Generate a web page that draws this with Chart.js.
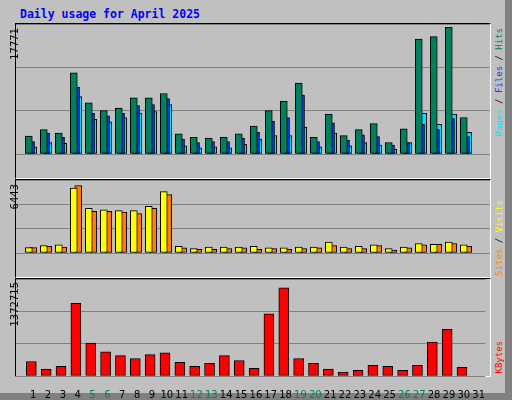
<!DOCTYPE html>
<html>
<head>
<meta charset="utf-8">
<script src="https://cdn.jsdelivr.net/npm/chart.js@4"></script>
<style>
  body { margin: 0; }
  #page { position: relative; width: 505px; height: 393px; background: #c0c0c0;
          border-right: 7px solid #808080; border-bottom: 7px solid #808080; font-family: "DejaVu Sans", sans-serif; }
  .frame { position: absolute; left: 15px; width: 474px; box-sizing: content-box;
           border-top: 1px solid #000; border-left: 1px solid #000; border-right: 1px solid #fff; border-bottom: 1px solid #fff; }
  .cv { position: absolute; left: 16px; }
  .vt { position: absolute; writing-mode: vertical-rl; transform: rotate(180deg); white-space: nowrap; }
  .mono { font-family: "DejaVu Sans Mono", monospace; font-size: 9px; }
  #title { position: absolute; left: 20px; top: 7px; color: #0000ff; font: bold 11.5px "DejaVu Sans Mono", monospace; }
</style>
</head>
<body>
<div id="page">
  <div id="title">Daily usage for April 2025</div>
  <div class="frame" style="top:23px;height:154px"></div>
  <div class="frame" style="top:179px;height:97px"></div>
  <div class="frame" style="top:278px;height:97px"></div>
  <div class="cv" style="top:24px"><canvas id="c1" width="474" height="154"></canvas></div>
  <div class="cv" style="top:180px"><canvas id="c2" width="474" height="97"></canvas></div>
  <div class="cv" style="top:279px"><canvas id="c3" width="474" height="121"></canvas></div>
  <div class="vt" style="left:9px;top:28px;font-size:10px">17771</div>
  <div class="vt" style="left:9px;top:184px;font-size:10px">6443</div>
  <div class="vt" style="left:9px;top:282px;font-size:10px">1372715</div>
  <div class="vt mono" style="left:494px;top:28px"><span style="color:#00e0ff">Pages</span> / <span style="color:#0040ff">Files</span> / <span style="color:#00805c">Hits</span></div>
  <div class="vt mono" style="left:494px;top:200px"><span style="color:#ff8000">Sites</span> / <span style="color:#ffff00">Visits</span></div>
  <div class="vt mono" style="left:494px;top:341px;color:#ff0000">KBytes</div>
</div>
<script>
const days = [1,2,3,4,5,6,7,8,9,10,11,12,13,14,15,16,17,18,19,20,21,22,23,24,25,26,27,28,29,30,31];
const weekends = [5,6,12,13,19,20,26,27];
const hits = [2500,3430,2940,11400,7170,6080,6450,7900,7900,8500,2820,2340,2220,2340,2820,3910,6080,7410,9950,2340,5600,2580,3430,4270,1610,3540,16120,16480,17771,5120,0];
const files = [1730,2940,2340,9350,5720,5360,5720,6810,6930,7780,2100,1610,1730,1730,2220,3060,4630,5120,8260,1730,4390,1970,2700,2450,1250,1610,4150,3420,4990,2450,0];
const pages = [1000,1610,1490,8060,4870,4510,5120,5720,5960,6930,1130,880,1000,880,1370,2100,2580,2580,3780,1000,2940,1130,1610,1250,640,1610,5720,4150,5600,3060,0];
const visits = [512,700,770,6210,4260,4120,4050,4050,4470,5860,630,420,560,560,560,630,490,490,560,560,1050,560,630,770,420,560,910,840,1050,770,0];
const sites = [512,630,560,6443,3980,3980,3910,3770,4260,5580,490,350,350,420,490,350,420,350,420,490,700,420,420,700,280,490,770,840,910,630,0];
const kbytes = [226000,106000,151000,1131000,513000,377000,317000,272000,332000,362000,211000,151000,196000,317000,241000,121000,965000,1372715,272000,196000,106000,60000,90000,166000,151000,90000,166000,528000,724000,136000,0];

const pts = (vals, off) => vals.map((v, i) => ({ x: days[i] + off, y: v }));
const bar = (vals, off, color, w) => ({
  data: pts(vals, off), backgroundColor: color, borderColor: '#000', borderWidth: 1,
  barThickness: w, grouped: false, borderSkipped: false
});

function makeChart(id, datasets, top, showX) {
  new Chart(document.getElementById(id), {
    type: 'bar',
    data: { datasets },
    options: {
      responsive: false, animation: false,
      layout: { padding: 0 },
      plugins: { legend: { display: false }, tooltip: { enabled: false } },
      scales: {
        x: {
          type: 'linear', min: -0.153, max: 31.45, display: showX, offset: false,
          grid: { display: false }, border: { display: false },
          afterBuildTicks: s => { s.ticks = days.map(d => ({ value: d })); },
          afterFit: s => { s.height = 24; },
          ticks: {
            font: { size: 10, family: 'DejaVu Sans' }, padding: 5, maxRotation: 0, autoSkip: false,
            color: c => weekends.includes(c.tick.value) ? '#00805c' : '#000'
          }
        },
        y: {
          min: 0, max: top, display: true,
          ticks: { display: false, stepSize: top / 3 },
          border: { display: false },
          grid: { color: '#808080', drawTicks: false, lineWidth: 1 }
        }
      }
    }
  });
}

makeChart('c1', [
  bar(hits, -0.3, '#00805c', 7),
  bar(files, -0.15, '#0040ff', 7),
  bar(pages, 0, '#00e0ff', 7)
], 18255, false);
makeChart('c2', [
  bar(visits, -0.3, '#ffff00', 7),
  bar(sites, 0, '#ff8000', 7)
], 6978, false);
makeChart('c3', [
  bar(kbytes, -0.12, '#ff0000', 10)
], 1508478, true);
</script>
</body>
</html>
